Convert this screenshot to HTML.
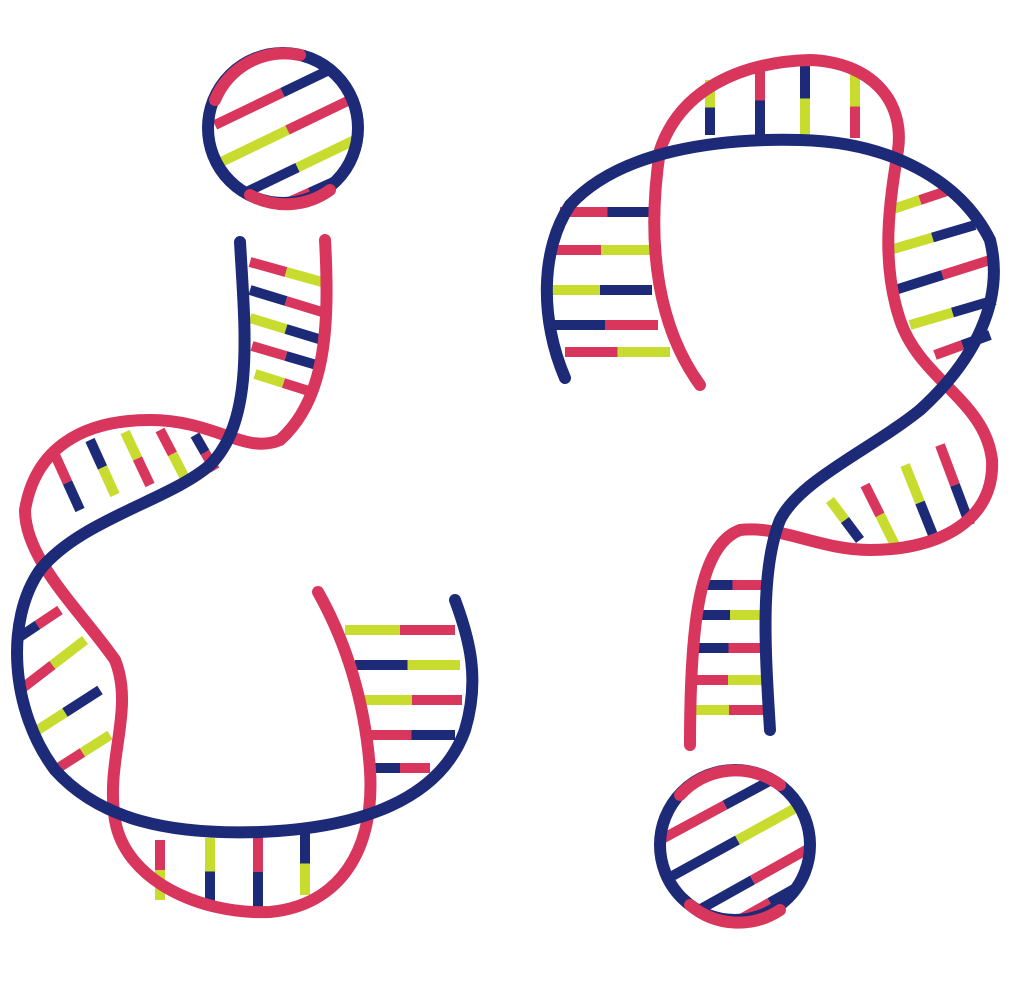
<!DOCTYPE html>
<html><head><meta charset="utf-8"><style>
html,body{margin:0;padding:0;background:#fff;}
svg{display:block}
</style></head><body>
<svg id="art" width="1032" height="988" viewBox="0 0 1032 988" xmlns="http://www.w3.org/2000/svg">
<defs>
<clipPath id="c1"><circle cx="283" cy="128" r="72"/></clipPath>
<clipPath id="c2"><circle cx="735" cy="845" r="72"/></clipPath>
</defs>
<g id="rungs"></g>
<g fill="none" stroke-linecap="round" stroke-width="12">
<path stroke="#d8365c" d="M325,240 C330,330 325,400 280,440 C245,455 215,420 150,420 C80,420 35,450 25,510 C25,560 80,610 115,660 C135,710 105,760 115,820 C125,880 200,915 270,912 C340,905 375,850 370,770 C365,700 345,640 318,592"/>
<path stroke="#1c2a78" d="M240,242 C245,330 255,420 210,465 C170,500 80,520 40,570 C5,620 10,710 55,770 C100,820 170,835 260,832 C360,828 440,800 465,730 C480,680 470,640 455,600"/>
<circle cx="283" cy="128" r="75" stroke="#1c2a78"/>
<path stroke="#d8365c" d="M215,100 A75,75 0 0,1 300,55 M250,195 A75,75 0 0,0 330,190"/>
</g>
<g fill="none" stroke-linecap="round" stroke-width="12">
<path stroke="#d8365c" d="M700,385 C660,330 645,250 660,150 C680,90 740,62 810,60 C870,62 905,100 898,150 C890,200 880,260 900,320 C920,380 985,400 992,460 C995,520 940,550 870,550 C820,550 780,525 740,530 C700,545 690,620 690,745"/>
<path stroke="#1c2a78" d="M565,378 C540,320 540,250 570,205 C620,150 720,138 800,140 C890,142 960,180 990,240 C1005,300 975,360 920,410 C870,450 800,480 780,520 C760,570 765,650 770,730"/>
<circle cx="735" cy="845" r="75" stroke="#1c2a78"/>
<path stroke="#d8365c" d="M680,795 A75,75 0 0,1 780,785 M690,905 A75,75 0 0,0 780,910"/>
</g>
</svg>
<script>
var NAVY='#1c2a78',RED='#d8365c',YEL='#c8dc30';
var g=document.getElementById('rungs');
var rungList=[
[250,262,322,282,RED,YEL],[250,290,322,312,NAVY,RED],[250,318,322,340,YEL,NAVY],[252,346,320,366,RED,NAVY],[255,374,312,392,YEL,RED],
[55,455,80,510,RED,NAVY],[90,440,115,495,NAVY,YEL],[125,432,150,485,YEL,RED],[160,430,185,478,RED,YEL],[195,435,215,470,NAVY,RED],
[15,640,60,610,NAVY,RED],[20,690,85,640,RED,YEL],[30,735,100,690,YEL,NAVY],[55,770,110,735,RED,YEL],
[345,630,455,630,YEL,RED],[355,665,460,665,NAVY,YEL],[362,700,462,700,YEL,RED],[368,735,455,735,RED,NAVY],[370,768,430,768,NAVY,RED],
[160,840,160,900,RED,YEL],[210,838,210,905,YEL,NAVY],[258,836,258,908,RED,NAVY],[305,832,305,895,NAVY,YEL],
[710,80,710,135,YEL,NAVY],[760,66,760,135,RED,NAVY],[805,62,805,135,NAVY,YEL],[855,75,855,138,YEL,RED],
[560,212,655,212,RED,NAVY],[550,250,652,250,RED,YEL],[548,290,652,290,YEL,NAVY],[552,325,658,325,NAVY,RED],[565,352,670,352,RED,YEL],
[890,210,950,190,YEL,RED],[890,250,975,225,YEL,NAVY],[895,290,990,260,NAVY,RED],[910,325,995,300,YEL,NAVY],[935,355,990,335,RED,NAVY],
[830,500,860,540,YEL,NAVY],[865,485,895,545,RED,YEL],[905,465,935,540,YEL,NAVY],[940,445,970,525,RED,NAVY],
[700,585,765,585,NAVY,RED],[695,615,765,615,NAVY,YEL],[692,648,765,648,NAVY,RED],[690,680,766,680,RED,YEL],[690,710,768,710,YEL,RED],
[215,125,350,60,RED,NAVY,'c1'],[215,165,360,95,YEL,RED,'c1'],[230,200,365,135,NAVY,YEL,'c1'],[260,215,360,170,RED,NAVY,'c1'],
[660,840,790,770,RED,NAVY,'c2'],[665,880,810,800,NAVY,YEL,'c2'],[690,915,815,845,NAVY,RED,'c2'],[730,925,810,880,RED,NAVY,'c2']
];
rungList.forEach(function(r,i){
  var mx=(r[0]+r[2])/2,my=(r[1]+r[3])/2;
  var grp=document.createElementNS('http://www.w3.org/2000/svg','g');
  
  
  if(r[6])grp.setAttribute('clip-path','url(#'+r[6]+')');
  [[r[0],r[1],mx,my,r[4]],[mx,my,r[2],r[3],r[5]]].forEach(function(s){
    var l=document.createElementNS('http://www.w3.org/2000/svg','line');
    l.setAttribute('x1',s[0]);l.setAttribute('y1',s[1]);l.setAttribute('x2',s[2]);l.setAttribute('y2',s[3]);
    l.setAttribute('stroke',s[4]);l.setAttribute('stroke-width','10');
    
    
    grp.appendChild(l);
  });
  g.appendChild(grp);
});
</script>
</body></html>
